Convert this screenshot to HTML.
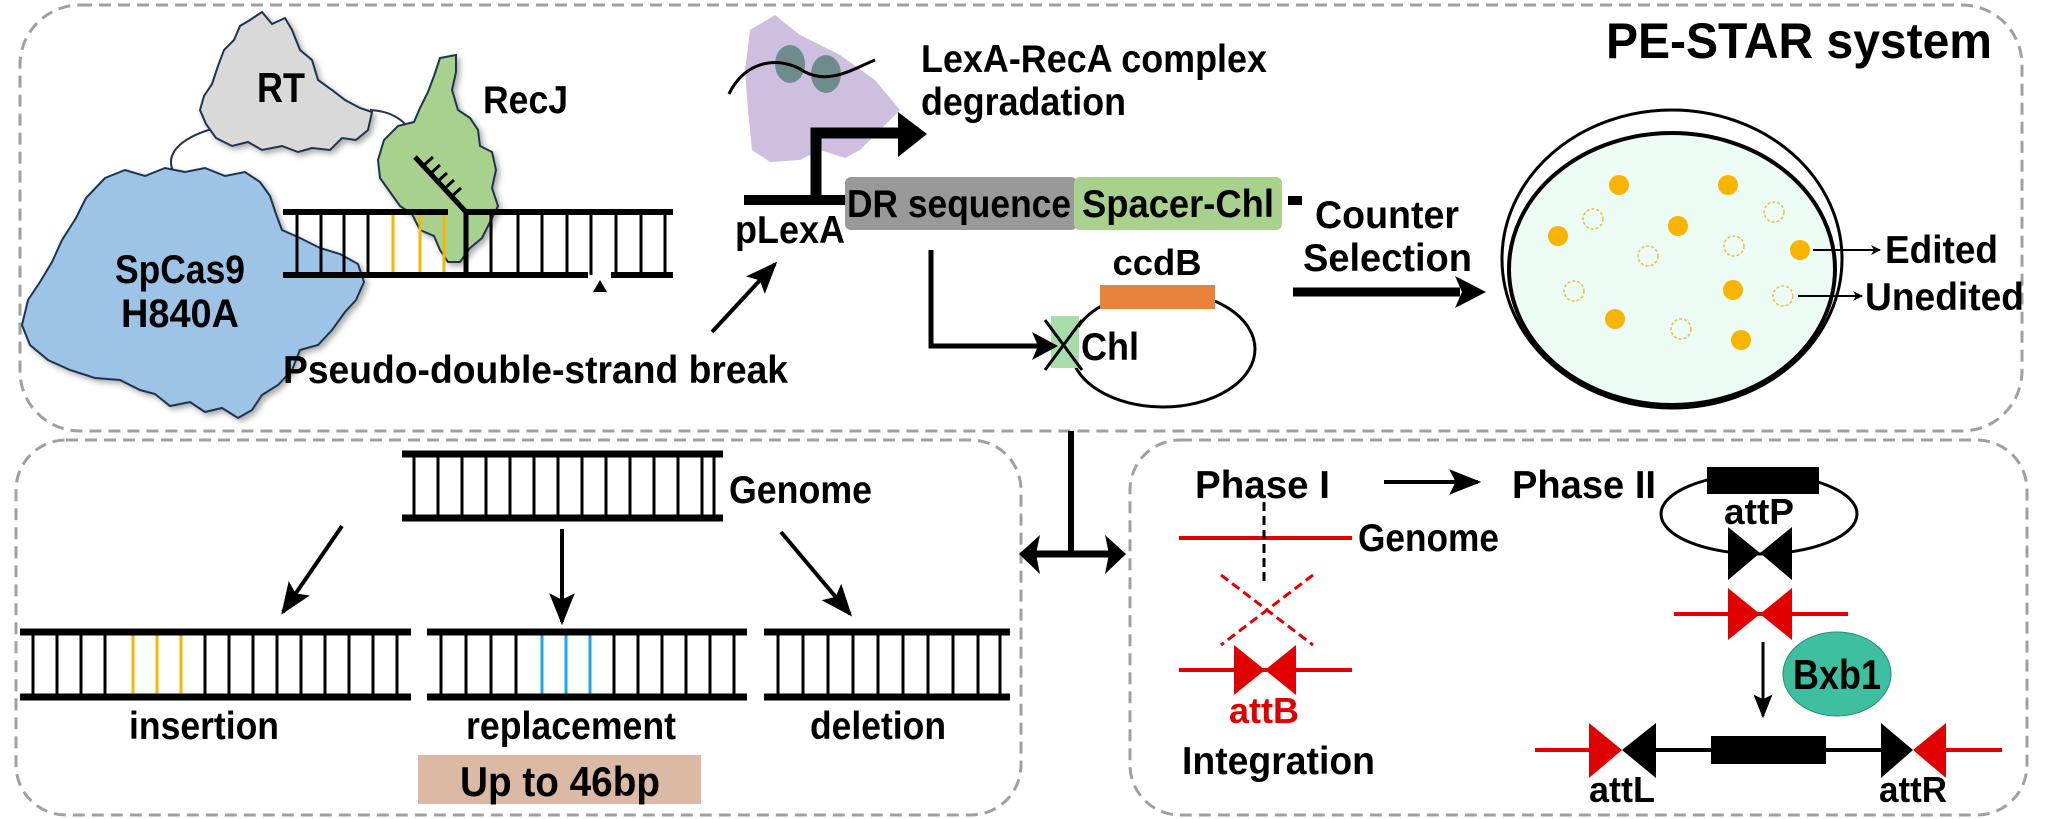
<!DOCTYPE html>
<html><head><meta charset="utf-8"><style>
html,body{margin:0;padding:0;background:#fff}
svg{display:block}
text{font-family:"Liberation Sans",Arial,sans-serif;font-weight:bold;fill:#000}
</style></head><body>
<svg width="2048" height="819" viewBox="0 0 2048 819" xmlns="http://www.w3.org/2000/svg">
<defs>
<marker id="ah" viewBox="0 0 10 10" refX="9" refY="5" markerWidth="5" markerHeight="5" orient="auto"><path d="M0,0 L10,5 L0,10 L3,5 z" fill="#000"/></marker>
<marker id="ahs" viewBox="0 0 10 10" refX="9" refY="5" markerWidth="8" markerHeight="8" orient="auto"><path d="M0,1 L10,5 L0,9 L2,5 z" fill="#000"/></marker>
<filter id="sh" x="-10%" y="-10%" width="130%" height="130%"><feDropShadow dx="3" dy="3" stdDeviation="3" flood-color="#555" flood-opacity="0.5"/></filter>
</defs>
<rect x="20" y="5" width="2002" height="426" rx="60" fill="none" stroke="#a0a0a0" stroke-width="3" stroke-dasharray="12,7"/>
<rect x="16" y="440" width="1005" height="375" rx="50" fill="none" stroke="#a0a0a0" stroke-width="3" stroke-dasharray="12,7"/>
<rect x="1130" y="440" width="897" height="375" rx="50" fill="none" stroke="#a0a0a0" stroke-width="3" stroke-dasharray="12,7"/>

<text x="1606" y="58" font-size="50" textLength="386" lengthAdjust="spacingAndGlyphs">PE-STAR system</text>

<path d="M175,175 C160,150 190,135 215,128" fill="none" stroke="#1f3550" stroke-width="2"/>
<path d="M370,110 C410,112 415,140 425,160" fill="none" stroke="#1f3550" stroke-width="2"/>
<path filter="url(#sh)" d="M262,12 L272,24 L285,18 L292,30 L300,50 L312,60 L318,80 L332,90 L345,100 L360,108 L372,112 L368,130 L356,140 L342,138 L330,150 L312,148 L298,152 L282,146 L262,150 L248,142 L232,146 L216,138 L206,124 L200,110 L204,96 L212,84 L218,66 L224,50 L234,40 L240,26 L250,20 Z" fill="#d9d9d9" stroke="#1f3550" stroke-width="2"/>
<text x="281" y="102" font-size="42" text-anchor="middle" textLength="48" lengthAdjust="spacingAndGlyphs">RT</text>
<path filter="url(#sh)" d="M440,58 L456,55 L456,72 L452,90 L458,110 L470,118 L478,130 L480,146 L492,152 L496,170 L492,188 L498,206 L490,222 L482,238 L470,248 L460,262 L448,262 L440,250 L434,236 L420,230 L412,214 L400,206 L390,192 L380,178 L378,160 L384,140 L398,126 L414,122 L420,108 L428,92 L434,76 Z" fill="#a9d18e" stroke="#1f3550" stroke-width="2"/>
<text x="483" y="113" font-size="39" textLength="85" lengthAdjust="spacingAndGlyphs">RecJ</text>
<path filter="url(#sh)" d="M105,178 L125,170 L145,176 L165,168 L185,172 L205,168 L225,176 L245,172 L260,182 L270,196 L276,214 L282,230 L300,238 L320,248 L340,254 L358,264 L364,282 L356,300 L345,312 L332,330 L318,345 L300,350 L292,370 L278,385 L262,395 L252,410 L238,418 L222,408 L205,412 L190,402 L170,406 L155,394 L140,390 L120,380 L95,378 L70,370 L48,360 L30,345 L22,325 L28,300 L40,282 L52,262 L62,240 L76,218 L86,198 Z" fill="#9dc3e6" stroke="#1f3550" stroke-width="2"/>
<text x="180" y="283" font-size="40" text-anchor="middle" textLength="130" lengthAdjust="spacingAndGlyphs">SpCas9</text>
<text x="180" y="327" font-size="40" text-anchor="middle" textLength="118" lengthAdjust="spacingAndGlyphs">H840A</text>

<g stroke="#000" stroke-width="3">
<line x1="297" y1="212" x2="297" y2="275"/><line x1="321" y1="212" x2="321" y2="275"/><line x1="344" y1="212" x2="344" y2="275"/><line x1="368" y1="212" x2="368" y2="275"/>
<line x1="491" y1="212" x2="491" y2="275"/><line x1="518" y1="212" x2="518" y2="275"/><line x1="542" y1="212" x2="542" y2="275"/><line x1="567" y1="212" x2="567" y2="275"/><line x1="591" y1="212" x2="591" y2="275"/><line x1="616" y1="212" x2="616" y2="275"/><line x1="641" y1="212" x2="641" y2="275"/><line x1="665" y1="212" x2="665" y2="275"/>
<line x1="466" y1="212" x2="466" y2="275" stroke-width="5"/>
</g>
<g stroke="#f5b800" stroke-width="3"><line x1="393" y1="214" x2="393" y2="273"/><line x1="420" y1="214" x2="420" y2="273"/><line x1="444" y1="214" x2="444" y2="273"/></g>
<g stroke="#000" stroke-width="6">
<line x1="283" y1="212" x2="448" y2="212"/><line x1="466" y1="212" x2="673" y2="212"/>
<line x1="283" y1="275" x2="588" y2="275"/><line x1="611" y1="275" x2="673" y2="275"/>
<line x1="415" y1="157" x2="466" y2="212" stroke-width="5"/>
</g>
<g stroke="#000" stroke-width="3">
<line x1="423" y1="166" x2="433" y2="157"/><line x1="430" y1="174" x2="440" y2="165"/><line x1="437" y1="182" x2="447" y2="173"/><line x1="444" y1="189" x2="454" y2="180"/><line x1="451" y1="197" x2="461" y2="188"/>
</g>
<polygon points="600,280 593,292 607,292" fill="#000"/>
<text x="283" y="383" font-size="39" textLength="505" lengthAdjust="spacingAndGlyphs">Pseudo-double-strand break</text>
<line x1="712" y1="332" x2="775" y2="264" stroke="#000" stroke-width="4" marker-end="url(#ahs)"/>

<path d="M750,30 L775,15 L800,35 L840,55 L875,80 L900,110 L880,130 L860,150 L845,158 L820,150 L800,160 L770,162 L752,150 L748,110 L745,70 Z" fill="#c9b8de" opacity="0.9"/>
<ellipse cx="790" cy="64" rx="15" ry="19" fill="#6e8c8c"/>
<ellipse cx="826" cy="74" rx="15" ry="19" fill="#6e8c8c"/>
<path d="M729,94 C745,60 780,55 805,72 C830,85 855,68 875,60" fill="none" stroke="#000" stroke-width="3"/>
<text x="921" y="72" font-size="39" textLength="346" lengthAdjust="spacingAndGlyphs">LexA-RecA complex</text>
<text x="921" y="115" font-size="39" textLength="205" lengthAdjust="spacingAndGlyphs">degradation</text>
<line x1="744" y1="200" x2="845" y2="200" stroke="#000" stroke-width="10"/>
<polyline points="816,200 816,133 900,133" fill="none" stroke="#000" stroke-width="11"/>
<polygon points="898,112 927,134 898,157" fill="#000"/>
<text x="735" y="243" font-size="39" textLength="110" lengthAdjust="spacingAndGlyphs">pLexA</text>
<rect x="845" y="177" width="232" height="53" rx="6" fill="#999"/>
<rect x="1074" y="177" width="208" height="53" rx="6" fill="#a9d18e"/>
<text x="847" y="217" font-size="39" textLength="224" lengthAdjust="spacingAndGlyphs">DR sequence</text>
<text x="1082" y="217" font-size="39" textLength="192" lengthAdjust="spacingAndGlyphs">Spacer-Chl</text>
<rect x="1288" y="196" width="14" height="9" fill="#000"/>
<text x="1315" y="228" font-size="39" textLength="144" lengthAdjust="spacingAndGlyphs">Counter</text>
<text x="1303" y="271" font-size="39" textLength="169" lengthAdjust="spacingAndGlyphs">Selection</text>
<line x1="1293" y1="292" x2="1460" y2="292" stroke="#000" stroke-width="9"/>
<polygon points="1455,276 1486,292 1455,308 1462,292" fill="#000"/>
<ellipse cx="1163" cy="349" rx="92" ry="58" fill="none" stroke="#000" stroke-width="3"/>
<rect x="1100" y="285" width="115" height="24" fill="#e8823a"/>
<text x="1157" y="275" font-size="36" text-anchor="middle" textLength="89" lengthAdjust="spacingAndGlyphs">ccdB</text>
<rect x="1051" y="316" width="28" height="52" fill="#a8dca8"/>
<polyline points="931,250 931,346 1040,346" fill="none" stroke="#000" stroke-width="5"/>
<polygon points="1032,332 1058,346 1032,360 1038,346" fill="#000"/>
<line x1="1045" y1="320" x2="1082" y2="370" stroke="#000" stroke-width="3"/>
<line x1="1082" y1="320" x2="1045" y2="370" stroke="#000" stroke-width="3"/>
<text x="1081" y="360" font-size="39" textLength="58" lengthAdjust="spacingAndGlyphs">Chl</text>
<ellipse cx="1672" cy="259" rx="170" ry="149" fill="none" stroke="#000" stroke-width="3"/>
<ellipse cx="1672" cy="269" rx="163" ry="136" fill="#ecfbf4" stroke="#000" stroke-width="4"/>
<g fill="#f7b500">
<circle cx="1619" cy="185" r="10"/><circle cx="1728" cy="185" r="10"/><circle cx="1558" cy="236" r="10"/><circle cx="1678" cy="226" r="10"/><circle cx="1800" cy="250" r="10"/><circle cx="1733" cy="290" r="10"/><circle cx="1615" cy="319" r="10"/><circle cx="1741" cy="340" r="10"/>
</g>
<g fill="none" stroke="#e0c040" stroke-width="1.5" stroke-dasharray="3,2">
<circle cx="1593" cy="219" r="10"/><circle cx="1774" cy="212" r="10"/><circle cx="1648" cy="256" r="10"/><circle cx="1734" cy="246" r="10"/><circle cx="1574" cy="291" r="10"/><circle cx="1783" cy="296" r="10"/><circle cx="1681" cy="329" r="10"/>
</g>
<line x1="1813" y1="250" x2="1880" y2="250" stroke="#000" stroke-width="2" marker-end="url(#ah)"/>
<line x1="1798" y1="296" x2="1862" y2="296" stroke="#000" stroke-width="2" marker-end="url(#ah)"/>
<text x="1885" y="263" font-size="39" textLength="113" lengthAdjust="spacingAndGlyphs">Edited</text>
<text x="1865" y="310" font-size="39" textLength="159" lengthAdjust="spacingAndGlyphs">Unedited</text>
<line x1="1071" y1="431" x2="1071" y2="554" stroke="#000" stroke-width="6"/>
<line x1="1035" y1="554" x2="1110" y2="554" stroke="#000" stroke-width="7"/>
<polygon points="1019,554 1040,535 1036,554 1040,574" fill="#000"/>
<polygon points="1126,554 1105,535 1109,554 1105,574" fill="#000"/>

<g stroke="#000" stroke-width="3">
<line x1="414" y1="454" x2="414" y2="518"/><line x1="438" y1="454" x2="438" y2="518"/><line x1="462" y1="454" x2="462" y2="518"/><line x1="486" y1="454" x2="486" y2="518"/><line x1="510" y1="454" x2="510" y2="518"/><line x1="534" y1="454" x2="534" y2="518"/><line x1="558" y1="454" x2="558" y2="518"/><line x1="582" y1="454" x2="582" y2="518"/><line x1="606" y1="454" x2="606" y2="518"/><line x1="630" y1="454" x2="630" y2="518"/><line x1="654" y1="454" x2="654" y2="518"/><line x1="678" y1="454" x2="678" y2="518"/><line x1="702" y1="454" x2="702" y2="518"/><line x1="714" y1="454" x2="714" y2="518"/>
</g>
<line x1="402" y1="454" x2="723" y2="454" stroke="#000" stroke-width="7"/>
<line x1="402" y1="518" x2="723" y2="518" stroke="#000" stroke-width="7"/>
<text x="729" y="503" font-size="39" textLength="143" lengthAdjust="spacingAndGlyphs">Genome</text>
<line x1="342" y1="526" x2="283" y2="612" stroke="#000" stroke-width="4" marker-end="url(#ahs)"/>
<line x1="562" y1="529" x2="562" y2="622" stroke="#000" stroke-width="4" marker-end="url(#ahs)"/>
<line x1="781" y1="532" x2="850" y2="614" stroke="#000" stroke-width="4" marker-end="url(#ahs)"/>
<g stroke="#000" stroke-width="3">
<line x1="33" y1="632" x2="33" y2="697"/><line x1="57" y1="632" x2="57" y2="697"/><line x1="81" y1="632" x2="81" y2="697"/><line x1="105" y1="632" x2="105" y2="697"/><line x1="205" y1="632" x2="205" y2="697"/><line x1="229" y1="632" x2="229" y2="697"/><line x1="253" y1="632" x2="253" y2="697"/><line x1="277" y1="632" x2="277" y2="697"/><line x1="301" y1="632" x2="301" y2="697"/><line x1="325" y1="632" x2="325" y2="697"/><line x1="349" y1="632" x2="349" y2="697"/><line x1="373" y1="632" x2="373" y2="697"/><line x1="397" y1="632" x2="397" y2="697"/>
<line x1="441" y1="632" x2="441" y2="697"/><line x1="466" y1="632" x2="466" y2="697"/><line x1="491" y1="632" x2="491" y2="697"/><line x1="516" y1="632" x2="516" y2="697"/><line x1="614" y1="632" x2="614" y2="697"/><line x1="638" y1="632" x2="638" y2="697"/><line x1="662" y1="632" x2="662" y2="697"/><line x1="686" y1="632" x2="686" y2="697"/><line x1="710" y1="632" x2="710" y2="697"/><line x1="734" y1="632" x2="734" y2="697"/>
<line x1="778" y1="632" x2="778" y2="697"/><line x1="803" y1="632" x2="803" y2="697"/><line x1="828" y1="632" x2="828" y2="697"/><line x1="853" y1="632" x2="853" y2="697"/><line x1="878" y1="632" x2="878" y2="697"/><line x1="903" y1="632" x2="903" y2="697"/><line x1="928" y1="632" x2="928" y2="697"/><line x1="953" y1="632" x2="953" y2="697"/><line x1="978" y1="632" x2="978" y2="697"/><line x1="1000" y1="632" x2="1000" y2="697"/>
</g>
<g stroke="#f5b800" stroke-width="3"><line x1="133" y1="634" x2="133" y2="695"/><line x1="157" y1="634" x2="157" y2="695"/><line x1="181" y1="634" x2="181" y2="695"/></g>
<g stroke="#1aa8e0" stroke-width="3"><line x1="542" y1="634" x2="542" y2="695"/><line x1="566" y1="634" x2="566" y2="695"/><line x1="590" y1="634" x2="590" y2="695"/></g>
<g stroke="#000" stroke-width="7">
<line x1="20" y1="632" x2="411" y2="632"/><line x1="20" y1="697" x2="411" y2="697"/>
<line x1="427" y1="632" x2="747" y2="632"/><line x1="427" y1="697" x2="747" y2="697"/>
<line x1="764" y1="632" x2="1010" y2="632"/><line x1="764" y1="697" x2="1010" y2="697"/>
</g>
<text x="204" y="739" font-size="39" text-anchor="middle" textLength="150" lengthAdjust="spacingAndGlyphs">insertion</text>
<text x="571" y="739" font-size="39" text-anchor="middle" textLength="210" lengthAdjust="spacingAndGlyphs">replacement</text>
<text x="878" y="739" font-size="39" text-anchor="middle" textLength="136" lengthAdjust="spacingAndGlyphs">deletion</text>
<rect x="418" y="755" width="283" height="49" fill="#dcb9a4"/>
<text x="560" y="796" font-size="42" text-anchor="middle" textLength="200" lengthAdjust="spacingAndGlyphs">Up to 46bp</text>

<text x="1195" y="498" font-size="39" textLength="135" lengthAdjust="spacingAndGlyphs">Phase I</text>
<line x1="1384" y1="482" x2="1478" y2="482" stroke="#000" stroke-width="4" marker-end="url(#ahs)"/>
<text x="1512" y="498" font-size="39" textLength="144" lengthAdjust="spacingAndGlyphs">Phase II</text>
<line x1="1179" y1="538" x2="1352" y2="538" stroke="#e00000" stroke-width="4"/>
<text x="1358" y="551" font-size="39" textLength="141" lengthAdjust="spacingAndGlyphs">Genome</text>
<line x1="1264" y1="502" x2="1264" y2="582" stroke="#000" stroke-width="3" stroke-dasharray="9,5"/>
<line x1="1221" y1="575" x2="1313" y2="645" stroke="#e00000" stroke-width="3" stroke-dasharray="9,5"/>
<line x1="1313" y1="575" x2="1221" y2="645" stroke="#e00000" stroke-width="3" stroke-dasharray="9,5"/>
<line x1="1179" y1="670" x2="1352" y2="670" stroke="#e00000" stroke-width="4"/>
<polygon points="1234,645 1265,670 1234,695" fill="#e00000"/>
<polygon points="1296,645 1265,670 1296,695" fill="#e00000"/>
<text x="1264" y="723" font-size="36" text-anchor="middle" style="fill:#e00000" textLength="70" lengthAdjust="spacingAndGlyphs">attB</text>
<text x="1182" y="774" font-size="39" textLength="193" lengthAdjust="spacingAndGlyphs">Integration</text>
<ellipse cx="1759" cy="514" rx="98" ry="40" fill="none" stroke="#000" stroke-width="3"/>
<rect x="1707" y="467" width="112" height="27" fill="#000"/>
<text x="1759" y="524" font-size="36" text-anchor="middle" textLength="70" lengthAdjust="spacingAndGlyphs">attP</text>
<polygon points="1728,527 1760,553 1728,580" fill="#000"/>
<polygon points="1792,527 1760,553 1792,580" fill="#000"/>
<line x1="1674" y1="614" x2="1848" y2="614" stroke="#e00000" stroke-width="4"/>
<polygon points="1728,588 1760,614 1728,640" fill="#e00000"/>
<polygon points="1792,588 1760,614 1792,640" fill="#e00000"/>
<line x1="1763" y1="642" x2="1763" y2="716" stroke="#000" stroke-width="3" marker-end="url(#ahs)"/>
<ellipse cx="1837" cy="674" rx="54" ry="42" fill="#3ebfa0" stroke="#2a8a74" stroke-width="1"/>
<text x="1837" y="689" font-size="42" text-anchor="middle" textLength="88" lengthAdjust="spacingAndGlyphs">Bxb1</text>
<line x1="1535" y1="750" x2="1600" y2="750" stroke="#e00000" stroke-width="4"/>
<line x1="1640" y1="750" x2="1900" y2="750" stroke="#000" stroke-width="4"/>
<line x1="1930" y1="750" x2="2002" y2="750" stroke="#e00000" stroke-width="4"/>
<polygon points="1589,723 1622,750 1589,778" fill="#e00000"/>
<polygon points="1656,723 1622,750 1656,778" fill="#000"/>
<rect x="1711" y="736" width="115" height="28" fill="#000"/>
<polygon points="1881,723 1913,750 1881,778" fill="#000"/>
<polygon points="1946,723 1913,750 1946,778" fill="#e00000"/>
<text x="1622" y="802" font-size="36" text-anchor="middle" textLength="66" lengthAdjust="spacingAndGlyphs">attL</text>
<text x="1913" y="802" font-size="36" text-anchor="middle" textLength="68" lengthAdjust="spacingAndGlyphs">attR</text>
</svg>
</body></html>
